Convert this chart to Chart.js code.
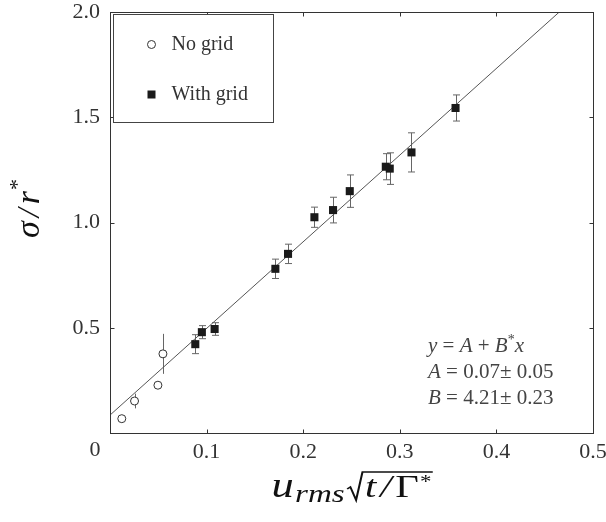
<!DOCTYPE html>
<html>
<head>
<meta charset="utf-8">
<script src="https://cdn.jsdelivr.net/npm/chart.js@4"></script>
<style>
  html, body { margin: 0; padding: 0; background: #fff; }
  #wrap { width: 606px; height: 522px; }
</style>
</head>
<body>
<div id="wrap"><canvas id="chart"></canvas></div>
<script>
// values
const withGridX = [0.0883, 0.0951, 0.1083, 0.1712, 0.1843, 0.2116, 0.2309, 0.2482, 0.2855, 0.2896, 0.3121, 0.3577];
const withGridY = [0.422, 0.479, 0.494, 0.780, 0.851, 1.025, 1.059, 1.149, 1.265, 1.256, 1.333, 1.544];
const withGridErr = [0.045, 0.031, 0.030, 0.046, 0.046, 0.048, 0.061, 0.077, 0.062, 0.075, 0.093, 0.062];

const noGridX = [0.0122, 0.0254, 0.0496, 0.0548];
const noGridY = [0.068, 0.152, 0.227, 0.376];
const noGridErr = [0, 0.035, 0, 0.095];

const fitX = [0, 0.4651];
const fitY = [0.085, 2.0];

const xTicks = [0, 0.1, 0.2, 0.3, 0.4, 0.5];
const yTicks = [0, 0.5, 1.0, 1.5, 2.0];

const SERIF = '"Liberation Serif", "Times New Roman", serif';
const MATH = '"Liberation Serif", serif';
const INK = "#333";

function pts(xs, ys) {
  return xs.map((x, i) => ({ x: x, y: ys[i] }));
}

// draw a row of text pieces with mixed fonts
function drawRuns(ctx, runs, x, y) {
  ctx.textBaseline = "alphabetic";
  ctx.textAlign = "left";
  for (const r of runs) {
    ctx.font = r.f;
    ctx.fillText(r.t, x, y + (r.dy || 0));
    x += ctx.measureText(r.t).width + (r.gap || 0);
  }
  return x;
}
function runsWidth(ctx, runs) {
  let w = 0;
  for (const r of runs) {
    ctx.font = r.f;
    w += ctx.measureText(r.t).width + (r.gap || 0);
  }
  return w;
}

const errorBars = {
  id: "errorBars",
  beforeDatasetsDraw(chart) {
    const { ctx, scales: { x, y } } = chart;
    ctx.save();
    ctx.strokeStyle = "#666";
    ctx.lineWidth = 1;
    const bar = (xs, ys, es, cap) => {
      xs.forEach((v, i) => {
        if (!es[i]) return;
        const px = Math.round(x.getPixelForValue(v)) + 0.5;
        const top = y.getPixelForValue(ys[i] + es[i]);
        const bot = y.getPixelForValue(ys[i] - es[i]);
        ctx.beginPath();
        ctx.moveTo(px, top); ctx.lineTo(px, bot);
        if (cap) {
          ctx.moveTo(px - cap, top); ctx.lineTo(px + cap, top);
          ctx.moveTo(px - cap, bot); ctx.lineTo(px + cap, bot);
        }
        ctx.stroke();
      });
    };
    bar(withGridX, withGridY, withGridErr, 3.5);
    bar(noGridX, noGridY, noGridErr, 0);
    ctx.restore();
  }
};

const decorations = {
  id: "decorations",
  afterDraw(chart) {
    const { ctx, scales: { x, y }, chartArea: a } = chart;
    ctx.save();
    // frame
    ctx.strokeStyle = INK;
    ctx.lineWidth = 1;
    const L = Math.round(a.left) + 0.5, R = Math.round(a.right) + 0.5;
    const T = Math.round(a.top) + 0.5, B = Math.round(a.bottom) + 0.5;
    ctx.strokeRect(L, T, R - L, B - T);
    // inward ticks on all sides
    ctx.beginPath();
    xTicks.forEach(v => {
      const px = Math.round(x.getPixelForValue(v)) + 0.5;
      ctx.moveTo(px, B); ctx.lineTo(px, B - 4);
      ctx.moveTo(px, T); ctx.lineTo(px, T + 4);
    });
    yTicks.forEach(v => {
      const py = Math.round(y.getPixelForValue(v)) + 0.5;
      ctx.moveTo(L, py); ctx.lineTo(L + 4, py);
      ctx.moveTo(R, py); ctx.lineTo(R - 4, py);
    });
    ctx.stroke();

    // shared origin label
    ctx.fillStyle = INK;
    ctx.font = "22px " + SERIF;
    ctx.textAlign = "center";
    ctx.textBaseline = "middle";
    ctx.fillText("0", x.getPixelForValue(0) - 15, a.bottom + 17);

    // legend box
    const lx = L + 3, ly = T + 2, lw = 160, lh = 108;
    ctx.fillStyle = "#fff";
    ctx.fillRect(lx, ly, lw, lh);
    ctx.strokeStyle = "#444";
    ctx.strokeRect(lx, ly, lw, lh);
    ctx.strokeStyle = "#333";
    ctx.beginPath();
    ctx.arc(lx + 38, ly + 30, 4, 0, Math.PI * 2);
    ctx.stroke();
    ctx.fillStyle = "#1a1a1a";
    ctx.fillRect(lx + 34, ly + 76, 8, 8);
    ctx.fillStyle = INK;
    ctx.font = "20px " + SERIF;
    ctx.textAlign = "left";
    ctx.textBaseline = "middle";
    ctx.fillText("No grid", lx + 58, ly + 30);
    ctx.fillText("With grid", lx + 58, ly + 80);

    // fit annotation
    const it = "italic 21px " + SERIF, rm = "21px " + SERIF, sup = "14px " + SERIF;
    const ax = a.right - 165;
    ctx.fillStyle = "#444";
    drawRuns(ctx, [
      { t: "y", f: it }, { t: " = ", f: rm }, { t: "A", f: it }, { t: " + ", f: rm },
      { t: "B", f: it }, { t: "*", f: sup, dy: -8 }, { t: "x", f: it }
    ], ax, a.bottom - 81);
    drawRuns(ctx, [{ t: "A", f: it }, { t: " = 0.07± 0.05", f: rm }], ax, a.bottom - 55);
    drawRuns(ctx, [{ t: "B", f: it }, { t: " = 4.21± 0.23", f: rm }], ax, a.bottom - 29);

    // y title  σ /r*
    ctx.fillStyle = "#111";
    const yt = [
      { t: "σ", f: "italic 34px " + MATH, gap: 4 },
      { t: "/", f: "italic 32px " + MATH, gap: 4 },
      { t: "r", f: "italic 34px " + MATH, gap: 1 },
      { t: "*", f: "22px " + MATH, dy: -15 }
    ];
    ctx.save();
    ctx.translate(39, (a.top + a.bottom) / 2 - 14);
    ctx.rotate(-Math.PI / 2);
    drawRuns(ctx, yt, -runsWidth(ctx, yt) / 2, 0);
    ctx.restore();

    // x title  u_rms sqrt(t/Γ*)
    const base = a.bottom + 64;
    const head = [
      { t: "u", f: "italic 35px " + MATH, gap: 1 },
      { t: "rms", f: "italic 26px " + MATH, dy: 5, gap: 1 }
    ];
    const inner = [
      { t: "t", f: "italic 32px " + MATH, gap: 3 },
      { t: "/", f: "italic 32px " + MATH, gap: 3 },
      { t: "Γ", f: "32px " + MATH, gap: 1 },
      { t: "*", f: "18px " + MATH, dy: -9 }
    ];
    const radW = 13;
    const natural = runsWidth(ctx, head) + radW + 2 + runsWidth(ctx, inner);
    const sx = 160 / natural;
    ctx.save();
    ctx.translate((a.left + a.right) / 2 - 80, base);
    ctx.scale(sx, 1);
    let cx = drawRuns(ctx, head, 0, 0);
    ctx.strokeStyle = "#111";
    ctx.lineWidth = 1.6;
    ctx.beginPath();
    ctx.moveTo(cx + 1, -8);
    ctx.lineTo(cx + 3.5, -10);
    ctx.lineTo(cx + 8, 3);
    ctx.lineTo(cx + radW, -25);
    const innerStart = cx + radW + 2;
    const innerEnd = innerStart + runsWidth(ctx, inner);
    ctx.lineTo(innerEnd + 1, -25);
    ctx.stroke();
    drawRuns(ctx, inner, innerStart, 0);
    ctx.restore();
    ctx.restore();
  }
};

const tickFont = { family: SERIF, size: 22 };

// keep the plot area exactly where layout.padding puts it
function noOverhang(s) {
  s.paddingTop = 0; s.paddingBottom = 0;
  s.paddingLeft = 0; s.paddingRight = 0;
}

new Chart(document.getElementById("chart"), {
  type: "scatter",
  data: {
    datasets: [
      {
        label: "No grid",
        data: pts(noGridX, noGridY),
        pointStyle: "circle",
        pointRadius: 4,
        pointHoverRadius: 4,
        backgroundColor: "#fff",
        borderColor: "#333",
        borderWidth: 1,
        order: 1
      },
      {
        label: "With grid",
        data: pts(withGridX, withGridY),
        pointStyle: "rect",
        pointRadius: 5.7,
        pointHoverRadius: 5.7,
        backgroundColor: "#1a1a1a",
        borderColor: "#1a1a1a",
        borderWidth: 0,
        order: 1
      },
      {
        type: "line",
        label: "fit",
        data: pts(fitX, fitY),
        borderColor: "#555",
        borderWidth: 1,
        pointRadius: 0,
        fill: false,
        order: 2
      }
    ]
  },
  options: {
    responsive: true,
    maintainAspectRatio: false,
    animation: false,
    layout: { padding: { top: 12, right: 13, left: 0, bottom: 0 } },
    plugins: {
      legend: { display: false },
      tooltip: { enabled: false }
    },
    scales: {
      x: {
        type: "linear",
        min: 0, max: 0.5,
        afterFit: s => { s.height = 89; noOverhang(s); },
        grid: { display: false, drawTicks: false },
        border: { display: false },
        ticks: {
          stepSize: 0.1,
          padding: 6,
          maxRotation: 0,
          color: INK,
          font: tickFont,
          callback: v => (v === 0 ? "" : v.toFixed(1))
        }
      },
      y: {
        type: "linear",
        min: 0, max: 2,
        afterFit: s => { s.width = 110; noOverhang(s); },
        grid: { display: false, drawTicks: false },
        border: { display: false },
        ticks: {
          stepSize: 0.5,
          padding: 10,
          color: INK,
          font: tickFont,
          callback: v => (v === 0 ? "" : v.toFixed(1))
        }
      }
    }
  },
  plugins: [errorBars, decorations]
});
</script>
</body>
</html>
